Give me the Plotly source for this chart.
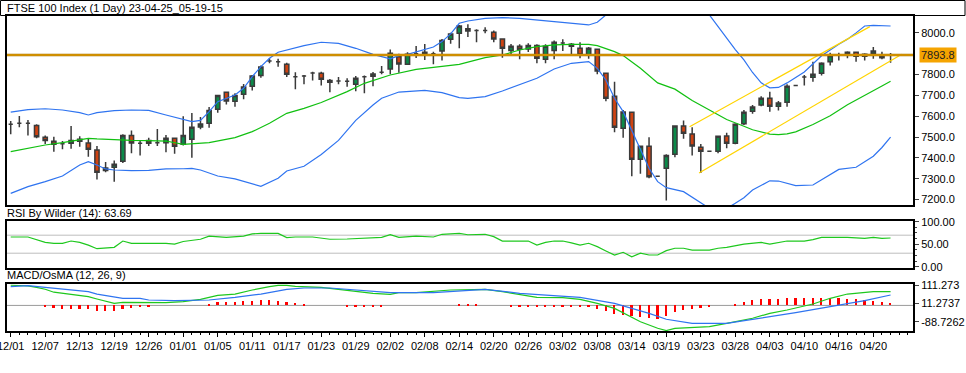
import plotly.graph_objects as go
from plotly.subplots import make_subplots

# ---------------- data ----------------
bar_index = list(range(103))
tick_pos = list(range(0, 104, 4))
tick_labels = ["12/01", "12/07", "12/13", "12/19", "12/26", "01/01", "01/05", "01/11", "01/17",
               "01/23", "01/29", "02/02", "02/08", "02/14", "02/20", "02/26", "03/02", "03/08",
               "03/14", "03/19", "03/23", "03/28", "04/03", "04/10", "04/16", "04/20"]

opens = [7561, 7566, 7566, 7556, 7499, 7480, 7468, 7470, 7489, 7472, 7438, 7340, 7355, 7384, 7508,
         7470, 7484, 7473, 7473, 7494, 7465, 7489, 7548, 7566, 7633, 7715, 7672, 7705, 7744, 7796,
         7865, 7862, 7849, 7790, 7793, 7808, 7806, 7772, 7769, 7768, 7753, 7790, 7792, 7811, 7827,
         7886, 7849, 7900, 7897, 7900, 7913, 7969, 7998, 8020, 8012, 8012, 8003, 7971, 7915, 7936,
         7923, 7940, 7873, 7916, 7952, 7945, 7926, 7894, 7921, 7806, 7696, 7542, 7619, 7393, 7456,
         7312, 7350, 7417, 7553, 7515, 7451, 7432, 7432, 7505, 7470, 7564, 7624, 7654, 7686, 7648,
         7667, 7748, 7788, 7787, 7806, 7862, 7894, 7894, 7907, 7888, 7900, 7894, 7894]
highs = [7577, 7601, 7582, 7561, 7508, 7502, 7481, 7553, 7504, 7491, 7457, 7380, 7387, 7513, 7532,
         7484, 7497, 7539, 7510, 7494, 7600, 7616, 7596, 7644, 7700, 7716, 7710, 7755, 7798, 7844,
         7878, 7876, 7857, 7811, 7798, 7814, 7814, 7779, 7788, 7782, 7793, 7796, 7812, 7841, 7920,
         7900, 7907, 7937, 7947, 7910, 7971, 8001, 8038, 8041, 8017, 8027, 8012, 7971, 7947, 7945,
         7950, 7945, 7945, 7964, 7969, 7952, 7955, 7932, 7921, 7806, 7766, 7630, 7619, 7456, 7499,
         7312, 7417, 7556, 7579, 7547, 7467, 7432, 7507, 7521, 7566, 7630, 7654, 7696, 7718, 7673,
         7753, 7748, 7798, 7862, 7859, 7905, 7905, 7912, 7910, 7902, 7932, 7910, 7904]
lows = [7513, 7547, 7507, 7494, 7467, 7430, 7441, 7444, 7454, 7406, 7296, 7331, 7286, 7376, 7422,
        7412, 7457, 7457, 7427, 7420, 7459, 7401, 7537, 7545, 7617, 7656, 7646, 7681, 7723, 7785,
        7854, 7838, 7788, 7729, 7753, 7771, 7747, 7715, 7753, 7742, 7720, 7710, 7744, 7801, 7801,
        7809, 7846, 7880, 7870, 7849, 7868, 7948, 7926, 7980, 7955, 7998, 7955, 7881, 7892, 7873,
        7908, 7854, 7854, 7873, 7913, 7894, 7878, 7876, 7801, 7672, 7523, 7497, 7312, 7324, 7302,
        7312, 7196, 7403, 7492, 7411, 7328, 7432, 7422, 7446, 7465, 7558, 7612, 7648, 7622, 7627,
        7646, 7748, 7748, 7766, 7796, 7843, 7867, 7878, 7862, 7868, 7876, 7873, 7857]
closes = [7561, 7566, 7566, 7502, 7483, 7465, 7468, 7484, 7480, 7441, 7331, 7352, 7369, 7508, 7472,
          7470, 7470, 7473, 7494, 7456, 7508, 7547, 7563, 7628, 7700, 7673, 7700, 7740, 7793, 7836,
          7865, 7862, 7801, 7790, 7793, 7808, 7777, 7763, 7769, 7768, 7782, 7790, 7803, 7811, 7902,
          7851, 7897, 7900, 7907, 7900, 7964, 7995, 8033, 8009, 8012, 8012, 7971, 7926, 7936, 7921,
          7940, 7878, 7936, 7955, 7952, 7936, 7894, 7926, 7817, 7686, 7547, 7620, 7393, 7456, 7310,
          7312, 7412, 7553, 7518, 7457, 7432, 7432, 7504, 7470, 7561, 7619, 7644, 7686, 7648, 7664,
          7744, 7748, 7788, 7801, 7854, 7891, 7894, 7907, 7888, 7897, 7913, 7881, 7893.8]

bb_upper_idx = [0, 2, 4, 6, 8, 9, 10, 12, 14, 16, 18, 20, 21, 22, 23, 24, 26, 27, 28, 29, 30, 31, 32,
                34, 36, 38, 40, 42, 44, 45, 46, 48, 49, 50, 51, 52, 53, 55, 57, 59, 61, 63, 65, 67,
                68, 69, 70, 71, 72, 73, 74, 75, 76, 77, 78, 79, 80, 81, 82, 83, 84, 85, 86, 87, 88,
                89, 90, 92, 94, 96, 97, 98, 99, 100, 101, 102]
bb_upper_val = [7620, 7632, 7636, 7630, 7617, 7606, 7617, 7627, 7630, 7628, 7606, 7584, 7574, 7580,
                7622, 7670, 7702, 7734, 7790, 7838, 7878, 7907, 7918, 7939, 7955, 7950, 7926, 7897,
                7875, 7891, 7897, 7918, 7932, 7958, 7995, 8046, 8057, 8070, 8073, 8070, 8062, 8054,
                8046, 8038, 8051, 8086, 8134, 8160, 8190, 8214, 8235, 8235, 8230, 8213, 8162, 8140,
                8120, 8086, 8030, 7975, 7920, 7870, 7810, 7760, 7736, 7738, 7760, 7812, 7890, 7945,
                7970, 8000, 8033, 8036, 8033, 8033]

bb_mid_idx = [0, 2, 4, 6, 8, 9, 10, 12, 14, 16, 18, 20, 23, 26, 28, 30, 32, 34, 36, 39, 41, 44, 47,
              52, 55, 57, 59, 61, 63, 65, 67, 68, 70, 71, 73, 75, 77, 79, 81, 83, 85, 86, 88, 89,
              90, 91, 93, 95, 97, 99, 101, 102]
bb_mid_val = [7430, 7446, 7462, 7473, 7488, 7494, 7491, 7486, 7484, 7483, 7481, 7465, 7473, 7497,
              7526, 7566, 7614, 7638, 7666, 7718, 7758, 7798, 7825, 7849, 7881, 7894, 7918, 7934,
              7942, 7945, 7945, 7939, 7910, 7891, 7830, 7760, 7730, 7675, 7630, 7584, 7552, 7535,
              7514, 7512, 7515, 7525, 7560, 7602, 7655, 7698, 7745, 7768]

bb_lower_idx = [0, 2, 4, 6, 8, 9, 10, 11, 12, 14, 16, 18, 20, 21, 22, 24, 26, 28, 29, 31, 32, 34,
                36, 38, 40, 42, 43, 45, 48, 50, 52, 53, 55, 57, 59, 61, 63, 65, 67, 68, 69, 70, 71,
                73, 74, 75, 76, 78, 80, 81, 82, 83, 84, 85, 86, 88, 89, 91, 93, 94, 96, 98, 99, 100,
                101, 102]
bb_lower_val = [7230, 7262, 7286, 7313, 7366, 7382, 7366, 7347, 7342, 7339, 7340, 7347, 7348, 7350,
                7342, 7313, 7299, 7278, 7264, 7302, 7337, 7360, 7416, 7484, 7580, 7654, 7686, 7716,
                7724, 7713, 7689, 7686, 7694, 7721, 7750, 7782, 7827, 7854, 7862, 7830, 7774, 7686,
                7622, 7446, 7350, 7286, 7257, 7238, 7182, 7158, 7139, 7158, 7182, 7209, 7246, 7290,
                7289, 7267, 7270, 7294, 7345, 7355, 7380, 7408, 7450, 7500]

channel_upper_idx = [78.7, 99.6]
channel_upper_val = [7550, 8030]
channel_lower_idx = [79.8, 103.3]
channel_lower_val = [7328, 7897]
last_price = 7893.8

rsi_idx = [0, 2, 4, 5, 6, 7, 8, 9, 10, 12, 13, 14, 18, 19, 20, 22, 23, 25, 27, 28, 29, 31, 32, 33,
           35, 37, 39, 41, 43, 44, 45, 47, 49, 50, 52, 53, 55, 56, 57, 59, 60, 61, 62, 63, 64, 65,
           66, 67, 68, 69, 70, 71, 72, 73, 74, 75, 76, 77, 78, 79, 81, 82, 83, 85, 87, 88, 89, 90,
           92, 93, 94, 97, 99, 100, 101, 102]
rsi_val = [66, 66, 54, 52, 52, 57, 54, 48, 40, 43, 57, 52, 52, 50, 56, 61, 68, 65, 68, 73, 74, 74,
           64.5, 66, 66, 61, 61.5, 63.7, 65, 71, 65, 68, 66, 72, 74, 71, 72, 66.7, 57, 57, 57, 48,
           54, 57, 57, 53, 48, 52, 44.5, 35, 26, 32, 22, 30, 26, 26, 35.6, 41, 41, 37, 37, 41, 43,
           50, 54, 50, 54, 57, 57, 60, 65, 65, 63, 65, 63, 63.69]

macd_idx = [0, 2, 3, 4, 5, 7, 9, 10, 12, 13, 16, 17, 18, 20, 22, 23, 24, 26, 27, 28, 30, 31, 32, 33,
            36, 38, 40, 42, 44, 45, 47, 49, 51, 55, 57, 61, 64, 66, 68, 70, 72, 73, 75, 76, 77, 81,
            83, 86, 88, 90, 93, 95, 97, 100, 102]
macd_val = [110, 106, 98.5, 88, 72, 60, 47.6, 35, 11.5, 17, 17, 18, 15, 20.6, 33, 44, 55, 62, 74.8,
            84, 102, 109.5, 109.5, 104, 98.5, 87.8, 75, 66, 60.5, 69.5, 69.5, 75, 84, 87.8, 75, 44,
            42, 33, 11.5, -16, -61.5, -88.7, -124.7, -137, -124.7, -116, -97.5, -70, -43, -25, 7.7,
            38.8, 62, 75, 75]

signal_idx = [0, 2, 4, 6, 9, 10, 12, 13, 15, 16, 19, 20, 23, 26, 29, 32, 34, 37, 40, 44, 49, 52, 55,
              59, 62, 66, 70, 74, 76, 79, 83, 87, 91, 95, 99, 102]
signal_val = [102, 107.5, 98.5, 87.8, 75, 62, 47.6, 38.8, 38.8, 29.5, 25.8, 25.8, 29.5, 44, 62, 87.8,
              95, 95, 84, 69.5, 69.5, 78.6, 87.8, 66, 56.8, 44, 11.5, -43, -75.6, -97.5, -97.5, -70,
              -39.5, -7, 25.8, 56.8]

osma_idx = [4, 5, 6, 7, 8, 9, 10, 11, 12, 13, 14, 15, 16,
            23, 24, 25, 26, 27, 28, 29, 30, 31, 32, 33, 34,
            39, 40, 41, 42, 43, 52, 53, 54,
            58, 59, 60, 61, 62, 63, 64, 65, 66, 67,
            68, 69, 70, 71, 72, 73, 74, 75, 76, 77, 78, 79, 80, 81,
            84, 85, 86, 87, 88, 89, 90, 91, 92, 93, 94, 95, 96, 97, 98, 99, 100, 101, 102]
osma_val = [-9, -14.5, -20, -20, -20, -20, -31, -31, -31, -20, -14.5, -9, -9,
            5, 16, 16, 16, 22, 22, 27, 27, 22, 16, 11, 5,
            -6, -6, -6, -6, -6, 6, 6, 6,
            -6, -6, -6, -6, -6, -6, -6, -6, -6, -6,
            -20, -31, -45, -51, -58, -64, -67, -73, -58, -36, -24, -18, -14, -9,
            5, 16, 27, 33, 33, 33, 38, 38, 38, 38, 38, 38, 38, 33, 33, 27, 22, 16, 11]

macd_tick_vals = [111.273, 11.2737, -88.7262]
macd_tick_text = ["111.273", "11.2737", "-88.7262"]

# ---------------- figure ----------------
FONT = "Liberation Sans"
W, H = 966, 373
ML, MR, MT, MB = 7, 53, 16, 42
PW = W - ML - MR
PH = H - MT - MB


def py(ypx):
    return (H - MB - ypx) / PH


def px(xpx):
    return (xpx - ML) / PW


fig = make_subplots(rows=3, cols=1, shared_xaxes=True, vertical_spacing=0.02)

fig.add_trace(go.Scatter(x=bb_upper_idx, y=bb_upper_val, mode="lines",
                         line=dict(color="#2f74f0", width=1.2)), row=1, col=1)
fig.add_trace(go.Scatter(x=bb_lower_idx, y=bb_lower_val, mode="lines",
                         line=dict(color="#2f74f0", width=1.2)), row=1, col=1)
fig.add_trace(go.Scatter(x=bb_mid_idx, y=bb_mid_val, mode="lines",
                         line=dict(color="#11c011", width=1.2)), row=1, col=1)
fig.add_trace(go.Scatter(x=channel_upper_idx, y=channel_upper_val, mode="lines",
                         line=dict(color="#ffd400", width=1.2)), row=1, col=1)
fig.add_trace(go.Scatter(x=channel_lower_idx, y=channel_lower_val, mode="lines",
                         line=dict(color="#ffd400", width=1.2)), row=1, col=1)
fig.add_trace(go.Candlestick(
    x=bar_index, open=opens, high=highs, low=lows, close=closes, whiskerwidth=0,
    increasing=dict(line=dict(color="#3a3a3a", width=1.5), fillcolor="#0b8a49"),
    decreasing=dict(line=dict(color="#3a3a3a", width=1.5), fillcolor="#cf4312")), row=1, col=1)

fig.add_trace(go.Scatter(x=rsi_idx, y=rsi_val, mode="lines",
                         line=dict(color="#1ec81e", width=1.2)), row=2, col=1)

fig.add_trace(go.Bar(x=osma_idx, y=osma_val, width=0.2, marker=dict(color="#ff0000", line=dict(width=0))),
              row=3, col=1)
fig.add_trace(go.Scatter(x=macd_idx, y=macd_val, mode="lines",
                         line=dict(color="#1ec81e", width=1.2)), row=3, col=1)
fig.add_trace(go.Scatter(x=signal_idx, y=signal_val, mode="lines",
                         line=dict(color="#2f74f0", width=1.2)), row=3, col=1)

frame = dict(showline=True, linewidth=2, linecolor="black", mirror=True,
             showgrid=False, zeroline=False, automargin=False, ticklabeloverflow="allow")
xr = [-0.43, 104.6]
for r in (1, 2, 3):
    fig.update_xaxes(range=xr, row=r, col=1, **frame)
fig.update_xaxes(showticklabels=False, ticks="", row=1, col=1)
fig.update_xaxes(showticklabels=False, ticks="", row=2, col=1)
fig.update_xaxes(tickmode="array", tickvals=tick_pos, ticktext=tick_labels, ticks="outside",
                 ticklen=4, tickcolor="black", tickwidth=1,
                 minor=dict(ticks="outside", ticklen=2, dtick=1, tick0=0, tickcolor="black"),
                 tickfont=dict(family=FONT, size=11, color="black"), row=3, col=1)
fig.update_layout(xaxis_rangeslider_visible=False)

price_ticks = [7200, 7300, 7400, 7500, 7600, 7700, 7800, 8000]
fig.update_yaxes(side="right", range=[7174, 8081], tickmode="array", tickvals=price_ticks,
                 ticktext=[f"{v:.1f}" for v in price_ticks], ticks="outside", ticklen=4,
                 tickfont=dict(family=FONT, size=11, color="black"), row=1, col=1, **frame)
fig.update_yaxes(side="right", range=[-2.9, 101.5], tickmode="array", tickvals=[0, 50, 100],
                 ticktext=["0.00", "50.00", "100.00"], ticks="outside", ticklen=4,
                 minor=dict(ticks="outside", ticklen=2, dtick=12.5, tick0=0),
                 tickfont=dict(family=FONT, size=11, color="black"), row=2, col=1, **frame)
fig.update_yaxes(side="right", range=[-139.4, 116.7], tickmode="array", tickvals=macd_tick_vals,
                 ticktext=macd_tick_text, ticks="outside", ticklen=4,
                 tickfont=dict(family=FONT, size=11, color="black"), row=3, col=1, **frame)

fig.update_layout(
    width=W, height=H, margin=dict(l=ML, r=MR, t=MT, b=MB, autoexpand=False),
    paper_bgcolor="white", plot_bgcolor="white", showlegend=False,
    font=dict(family=FONT, size=11, color="black"), bargap=0,
    xaxis=dict(domain=[0, 1]), xaxis2=dict(domain=[0, 1]), xaxis3=dict(domain=[0, 1]),
    yaxis=dict(domain=[py(205), 1.0]),
    yaxis2=dict(domain=[py(268), py(221)]),
    yaxis3=dict(domain=[0.0, py(284)]),
)

shapes = [
    dict(type="rect", xref="paper", yref="paper", x0=px(0.5), x1=px(965), y0=py(15.5), y1=py(0.5),
         line=dict(color="black", width=1), fillcolor="rgba(0,0,0,0)"),
    dict(type="line", xref="x2 domain", yref="y2", x0=0, x1=1, y0=70, y1=70,
         line=dict(color="#bdbdbd", width=1), layer="below"),
    dict(type="line", xref="x2 domain", yref="y2", x0=0, x1=1, y0=30, y1=30,
         line=dict(color="#bdbdbd", width=1), layer="below"),
    dict(type="line", xref="x3 domain", yref="y3", x0=0, x1=1, y0=0, y1=0,
         line=dict(color="#9a9a9a", width=1), layer="below"),
    dict(type="line", xref="x domain", yref="y", x0=0, x1=1, y0=last_price, y1=last_price,
         line=dict(color="#a87400", width=2.4)),
    dict(type="line", xref="x domain", yref="y", x0=0, x1=1, y0=last_price, y1=last_price,
         line=dict(color="#f5a800", width=1)),
]
fig.update_layout(shapes=shapes)

annotations = [
    dict(text="FTSE 100 Index (1 Day) 23-04-25_05-19-15", xref="paper", yref="paper",
         x=px(5), y=py(8), xanchor="left", yanchor="middle", showarrow=False,
         font=dict(family=FONT, size=11, color="black")),
    dict(text="RSI By Wilder (14): 63.69", xref="paper", yref="paper",
         x=px(5), y=py(213), xanchor="left", yanchor="middle", showarrow=False,
         font=dict(family=FONT, size=11, color="black")),
    dict(text="MACD/OsMA (12, 26, 9)", xref="paper", yref="paper",
         x=px(5), y=py(275), xanchor="left", yanchor="middle", showarrow=False,
         font=dict(family=FONT, size=11, color="black")),
    dict(text=f"{last_price:.1f}", xref="paper", yref="y", x=1, y=last_price,
         xanchor="left", yanchor="middle", xshift=6, showarrow=False, bgcolor="#f5a400",
         borderpad=1, font=dict(family=FONT, size=11, color="#202020")),
]
fig.update_layout(annotations=annotations)

fig.write_html("out.html", config={"displayModeBar": False},
               post_script="document.body.style.margin='0';document.body.style.overflow='hidden';")
